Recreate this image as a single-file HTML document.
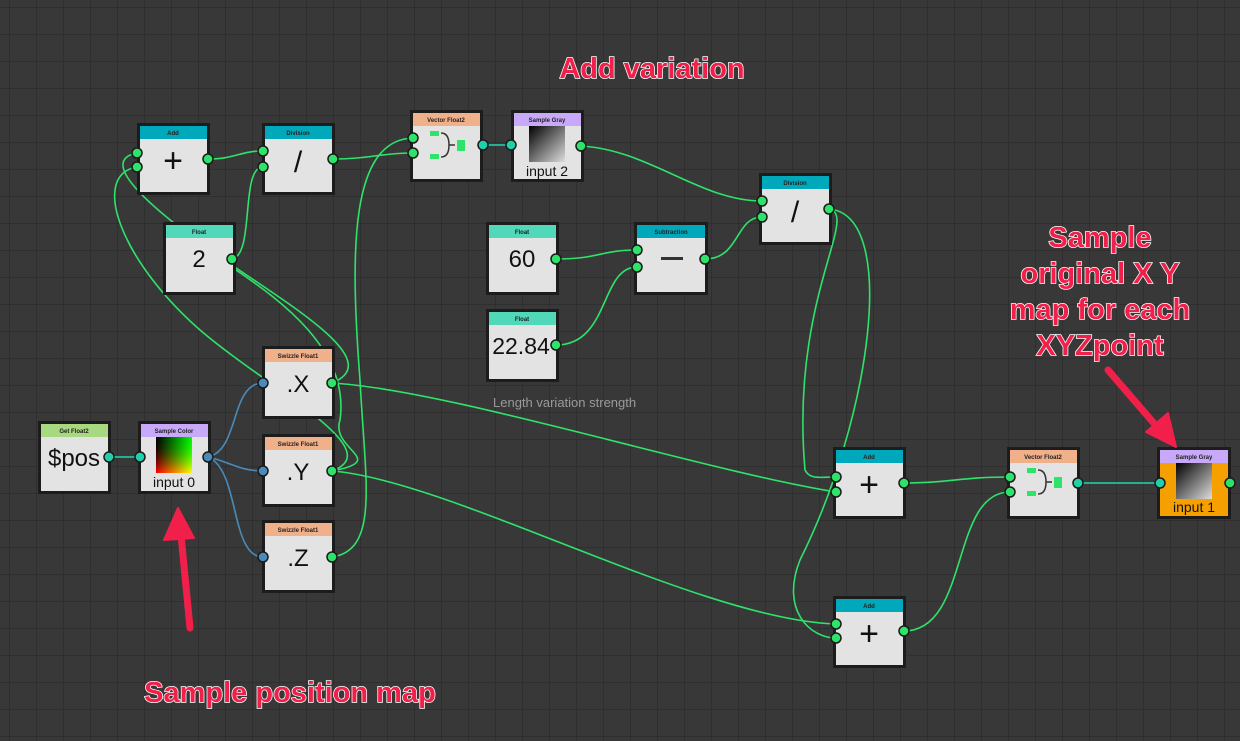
<!DOCTYPE html>
<html><head><meta charset="utf-8"><style>
html,body{margin:0;padding:0;background:#383838;}
svg{display:block}
.t{font-family:"Liberation Sans",sans-serif;}
.h{font-size:6px;font-weight:bold;fill:#222;text-anchor:middle;font-family:"Liberation Sans",sans-serif}
.v{font-size:24px;fill:#111;text-anchor:middle;font-family:"Liberation Sans",sans-serif}
.red{font-family:"Liberation Sans",sans-serif;font-weight:bold;fill:#f0204a;stroke:#fff;stroke-width:1.5px;paint-order:stroke;text-anchor:middle}
</style></head><body>
<svg width="1240" height="741" viewBox="0 0 1240 741" xmlns="http://www.w3.org/2000/svg">
<defs>
<pattern id="g" width="27" height="27" patternUnits="userSpaceOnUse" x="10" y="8">
<path d="M27 0V27M0 27H27" stroke="#2c2c2c" stroke-width="1.5" fill="none"/>
</pattern>
<linearGradient id="gr" x1="0" y1="0" x2="1" y2="1"><stop offset="0" stop-color="#000"/><stop offset="1" stop-color="#ddd"/></linearGradient>
<linearGradient id="cc1" x1="0" y1="0" x2="1" y2="0"><stop offset="0" stop-color="#000"/><stop offset="1" stop-color="#0f0"/></linearGradient>
<linearGradient id="cc2" x1="0" y1="0" x2="0" y2="1"><stop offset="0" stop-color="#000" stop-opacity="0"/><stop offset="1" stop-color="#f00"/></linearGradient>
</defs>
<rect width="1240" height="741" fill="#383838"/>
<rect width="1240" height="741" fill="url(#g)"/>

<g fill="none" stroke="#2ee36a" stroke-width="1.6">
<path d="M208 159 C235 159 240 151 263 151"/>
<path d="M232 259 C255 255 240 167 263 167"/>
<path d="M333 159 C370 159 380 153 413 153"/>
<path d="M581 146 C650 150 700 201 762 201"/>
<path d="M556 259 C600 259 600 250 637 250"/>
<path d="M556 345 C610 345 600 267 637 267"/>
<path d="M705 259 C740 259 735 217 762 217"/>
<path d="M137 153 C100 160 140 200 210 250 C280 300 390 360 332 383"/>
<path d="M137 167 C90 175 120 260 200 330 C270 390 390 450 332 471"/>
<path d="M236 270 C280 300 350 350 340 420 C330 450 390 460 332 471"/>
<path d="M332 557 C380 550 365 480 360 380 C350 250 350 140 413 138"/>
<path d="M332 383 C450 390 700 470 836 492"/>
<path d="M332 471 C450 480 700 620 836 624"/>
<path d="M829 209 C860 215 790 300 805 470 C810 480 820 477 836 477"/>
<path d="M829 209 C900 215 870 420 800 560 C780 610 810 638 836 638"/>
<path d="M904 483 C950 483 960 477 1010 477"/>
<path d="M904 631 C970 631 950 492 1010 492"/>
</g>
<g fill="none" stroke="#20c0a0" stroke-width="1.8">
<path d="M109 457 H140"/><path d="M483 145 H511"/><path d="M1078 483 H1160"/>
</g>
<g fill="none" stroke="#4a8ab8" stroke-width="1.6">
<path d="M208 457 C240 450 230 383 263 383"/>
<path d="M208 457 C230 462 240 471 263 471"/>
<path d="M208 457 C240 470 230 557 263 557"/>
</g>

<g>
<g><rect x="137" y="123" width="73" height="72" fill="#1c1c1c"/><rect x="140" y="126" width="67" height="13" fill="#00a8bc"/><rect x="140" y="139" width="67" height="53" fill="#e3e3e3"/><text class="h" x="173" y="135">Add</text><text class="v" x="173" y="172" style="font-size:34px">+</text></g>
<g><rect x="262" y="123" width="73" height="72" fill="#1c1c1c"/><rect x="265" y="126" width="67" height="13" fill="#00a8bc"/><rect x="265" y="139" width="67" height="53" fill="#e3e3e3"/><text class="h" x="298" y="135">Division</text><text class="v" x="298" y="172" style="font-size:30px">/</text></g>
<g><rect x="163" y="222" width="73" height="73" fill="#1c1c1c"/><rect x="166" y="225" width="67" height="13" fill="#50d8b8"/><rect x="166" y="238" width="67" height="54" fill="#e3e3e3"/><text class="h" x="199" y="234">Float</text><text class="v" x="199" y="267">2</text></g>
<g><rect x="410" y="110" width="73" height="72" fill="#1c1c1c"/><rect x="413" y="113" width="67" height="13" fill="#f0b08a"/><rect x="413" y="126" width="67" height="53" fill="#e3e3e3"/><text class="h" x="446" y="122">Vector Float2</text>
<rect x="430" y="131" width="9" height="5" fill="#2ee36a"/><rect x="430" y="154" width="9" height="5" fill="#2ee36a"/><path d="M441 133 Q449 133 449 145 Q449 157 441 157 M449 145 H455" stroke="#333" stroke-width="1.5" fill="none"/><rect x="457" y="140" width="8" height="11" fill="#2ee36a"/></g>
<g><rect x="511" y="110" width="73" height="72" fill="#1c1c1c"/><rect x="514" y="113" width="67" height="13" fill="#c8a8f8"/><rect x="514" y="126" width="67" height="53" fill="#e3e3e3"/><text class="h" x="547" y="122">Sample Gray</text><rect x="529" y="126" width="36" height="36" fill="url(#gr)"/><text class="t" x="547" y="176" style="font-size:14px;text-anchor:middle;fill:#111">input 2</text></g>
<g><rect x="486" y="222" width="73" height="73" fill="#1c1c1c"/><rect x="489" y="225" width="67" height="13" fill="#50d8b8"/><rect x="489" y="238" width="67" height="54" fill="#e3e3e3"/><text class="h" x="522" y="234">Float</text><text class="v" x="522" y="267">60</text></g>
<g><rect x="634" y="222" width="74" height="73" fill="#1c1c1c"/><rect x="637" y="225" width="68" height="13" fill="#00a8bc"/><rect x="637" y="238" width="68" height="54" fill="#e3e3e3"/><text class="h" x="671" y="234">Subtraction</text><rect x="661" y="257" width="22" height="3" fill="#333"/></g>
<g><rect x="486" y="309" width="73" height="73" fill="#1c1c1c"/><rect x="489" y="312" width="67" height="13" fill="#50d8b8"/><rect x="489" y="325" width="67" height="54" fill="#e3e3e3"/><text class="h" x="522" y="321">Float</text><text class="v" x="521" y="354" style="font-size:23px">22.84</text></g>
<g><rect x="759" y="173" width="73" height="72" fill="#1c1c1c"/><rect x="762" y="176" width="67" height="13" fill="#00a8bc"/><rect x="762" y="189" width="67" height="53" fill="#e3e3e3"/><text class="h" x="795" y="185">Division</text><text class="v" x="795" y="222" style="font-size:30px">/</text></g>
<g><rect x="38" y="421" width="73" height="73" fill="#1c1c1c"/><rect x="41" y="424" width="67" height="13" fill="#a8d880"/><rect x="41" y="437" width="67" height="54" fill="#e3e3e3"/><text class="h" x="74" y="433">Get Float2</text><text class="v" x="74" y="466">$pos</text></g>
<g><rect x="138" y="421" width="73" height="73" fill="#1c1c1c"/><rect x="141" y="424" width="67" height="13" fill="#c8a8f8"/><rect x="141" y="437" width="67" height="54" fill="#e3e3e3"/><text class="h" x="174" y="433">Sample Color</text><rect x="156" y="437" width="36" height="36" fill="url(#cc1)"/><rect x="156" y="437" width="36" height="36" fill="url(#cc2)" style="mix-blend-mode:screen"/><text class="t" x="174" y="487" style="font-size:14px;text-anchor:middle;fill:#111">input 0</text></g>
<g><rect x="262" y="346" width="73" height="73" fill="#1c1c1c"/><rect x="265" y="349" width="67" height="13" fill="#f0b08a"/><rect x="265" y="362" width="67" height="54" fill="#e3e3e3"/><text class="h" x="298" y="358">Swizzle Float1</text><text class="v" x="298" y="392">.X</text></g>
<g><rect x="262" y="434" width="73" height="73" fill="#1c1c1c"/><rect x="265" y="437" width="67" height="13" fill="#f0b08a"/><rect x="265" y="450" width="67" height="54" fill="#e3e3e3"/><text class="h" x="298" y="446">Swizzle Float1</text><text class="v" x="298" y="480">.Y</text></g>
<g><rect x="262" y="520" width="73" height="73" fill="#1c1c1c"/><rect x="265" y="523" width="67" height="13" fill="#f0b08a"/><rect x="265" y="536" width="67" height="54" fill="#e3e3e3"/><text class="h" x="298" y="532">Swizzle Float1</text><text class="v" x="298" y="566">.Z</text></g>
<g><rect x="833" y="447" width="73" height="72" fill="#1c1c1c"/><rect x="836" y="450" width="67" height="13" fill="#00a8bc"/><rect x="836" y="463" width="67" height="53" fill="#e3e3e3"/><text class="h" x="869" y="459">Add</text><text class="v" x="869" y="496" style="font-size:34px">+</text></g>
<g><rect x="833" y="596" width="73" height="72" fill="#1c1c1c"/><rect x="836" y="599" width="67" height="13" fill="#00a8bc"/><rect x="836" y="612" width="67" height="53" fill="#e3e3e3"/><text class="h" x="869" y="608">Add</text><text class="v" x="869" y="645" style="font-size:34px">+</text></g>
<g><rect x="1007" y="447" width="73" height="72" fill="#1c1c1c"/><rect x="1010" y="450" width="67" height="13" fill="#f0b08a"/><rect x="1010" y="463" width="67" height="53" fill="#e3e3e3"/><text class="h" x="1043" y="459">Vector Float2</text>
<rect x="1027" y="468" width="9" height="5" fill="#2ee36a"/><rect x="1027" y="491" width="9" height="5" fill="#2ee36a"/><path d="M1038 470 Q1046 470 1046 482 Q1046 494 1038 494 M1046 482 H1052" stroke="#333" stroke-width="1.5" fill="none"/><rect x="1054" y="477" width="8" height="11" fill="#2ee36a"/></g>
<g><rect x="1157" y="447" width="74" height="72" fill="#1c1c1c"/><rect x="1160" y="450" width="68" height="13" fill="#c8a8f8"/><rect x="1160" y="463" width="68" height="53" fill="#f5a000"/><text class="h" x="1194" y="459">Sample Gray</text><rect x="1176" y="463" width="36" height="36" fill="url(#gr)"/><text class="t" x="1194" y="512" style="font-size:14px;text-anchor:middle;fill:#111">input 1</text></g>
</g>

<g fill="#2ee36a" stroke="#1a1a1a" stroke-width="1.5">
<circle cx="137" cy="153" r="5"/><circle cx="137" cy="167" r="5"/><circle cx="208" cy="159" r="5"/>
<circle cx="263" cy="151" r="5"/><circle cx="263" cy="167" r="5"/><circle cx="333" cy="159" r="5"/>
<circle cx="232" cy="259" r="5"/>
<circle cx="413" cy="138" r="5"/><circle cx="413" cy="153" r="5"/>
<circle cx="581" cy="146" r="5"/><circle cx="556" cy="259" r="5"/><circle cx="556" cy="345" r="5"/>
<circle cx="637" cy="250" r="5"/><circle cx="637" cy="267" r="5"/><circle cx="705" cy="259" r="5"/>
<circle cx="762" cy="201" r="5"/><circle cx="762" cy="217" r="5"/><circle cx="829" cy="209" r="5"/>
<circle cx="332" cy="383" r="5"/><circle cx="332" cy="471" r="5"/><circle cx="332" cy="557" r="5"/>
<circle cx="836" cy="477" r="5"/><circle cx="836" cy="492" r="5"/><circle cx="904" cy="483" r="5"/>
<circle cx="836" cy="624" r="5"/><circle cx="836" cy="638" r="5"/><circle cx="904" cy="631" r="5"/>
<circle cx="1010" cy="477" r="5"/><circle cx="1010" cy="492" r="5"/><circle cx="1230" cy="483" r="5"/>
</g>
<g fill="#20d0a8" stroke="#1a1a1a" stroke-width="1.5">
<circle cx="483" cy="145" r="5"/><circle cx="511" cy="145" r="5"/><circle cx="109" cy="457" r="5"/><circle cx="140" cy="457" r="5"/><circle cx="1078" cy="483" r="5"/><circle cx="1160" cy="483" r="5"/>
</g>
<g fill="#4a8ab8" stroke="#1a1a1a" stroke-width="1.5">
<circle cx="208" cy="457" r="5"/><circle cx="263" cy="383" r="5"/><circle cx="263" cy="471" r="5"/><circle cx="263" cy="557" r="5"/>
</g>

<text class="t" x="493" y="407" style="font-size:13px;fill:#9a9a9a">Length variation strength</text>

<text class="red" x="652" y="78" style="font-size:29px">Add variation</text>
<text class="red" x="1100" y="247" style="font-size:29px">Sample</text>
<text class="red" x="1100" y="283" style="font-size:29px">original X Y</text>
<text class="red" x="1100" y="319" style="font-size:29px">map for each</text>
<text class="red" x="1100" y="355" style="font-size:29px">XYZpoint</text>
<text class="red" x="290" y="702" style="font-size:29px">Sample position map</text>
<g fill="#f0204a" stroke="#f0204a" stroke-linecap="round">
<line x1="190" y1="628" x2="181" y2="535" stroke-width="7"/>
<polygon points="178,508 164,540 194,538" stroke-width="2" stroke-linejoin="round"/>
<line x1="1108" y1="370" x2="1158" y2="428" stroke-width="7"/>
<polygon points="1176,447 1146,432 1168,413" stroke-width="2" stroke-linejoin="round"/>
</g>
</svg>
</body></html>
